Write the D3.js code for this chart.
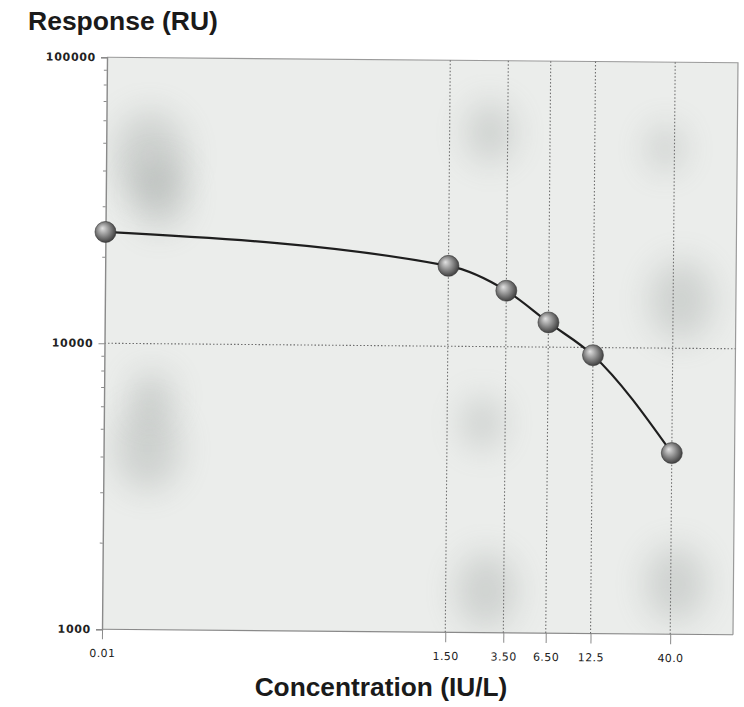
<!DOCTYPE html>
<html><head><meta charset="utf-8">
<script src="https://cdn.jsdelivr.net/npm/d3@7"></script>
<style>
html,body{margin:0;padding:0;background:#fff;}
svg{display:block;}
</style></head>
<body>
<svg id="chart" width="744" height="707"></svg>
<script>
// ---- data ----
const concentrations = [0.01, 1.5, 3.5, 6.5, 12.5, 40];
const responses = [24500, 19100, 15700, 12200, 9400, 4300];
const xTickLabels = ["0.01", "1.50", "3.50", "6.50", "12.5", "40.0"];
const yTickValues = [1000, 10000, 100000];
const yTickLabels = ["1000", "10000", "100000"];
// scan smudges in data coordinates [conc, response, relative size]
const smudgeX = [0.019, 0.022, 0.019, 0.02, 2.7, 2.5, 2.7, 35, 45, 43];
const smudgeY = [45000, 33000, 4300, 6500, 56000, 5400, 1400, 50000, 14700, 1500];
const smudgeR = [1.2, 0.9, 1.1, 0.7, 0.8, 0.7, 1.0, 0.6, 1.05, 1.0];

const svg = d3.select("#chart");
const L = 104.5, R = 735.5, T = 60, B = 632;

const x = d3.scaleLog().domain([0.01, 100]).range([L, R]);
const y = d3.scaleLog().domain([1000, 100000]).range([B, T]);

const defs = svg.append("defs");
const grad = defs.append("radialGradient").attr("id", "ball")
  .attr("cx", "45%").attr("cy", "45%").attr("r", "60%").attr("fx", "35%").attr("fy", "32%");
grad.append("stop").attr("offset", "0%").attr("stop-color", "#e2e2e2");
grad.append("stop").attr("offset", "45%").attr("stop-color", "#959595");
grad.append("stop").attr("offset", "100%").attr("stop-color", "#353535");
defs.append("filter").attr("id", "blur").attr("x", "-100%").attr("y", "-100%").attr("width", "300%").attr("height", "300%")
  .append("feGaussianBlur").attr("stdDeviation", 16);
defs.append("clipPath").attr("id", "clip").append("rect")
  .attr("x", L).attr("y", T).attr("width", R - L).attr("height", B - T);

// Title text
svg.append("text").attr("x", 28).attr("y", 30)
  .attr("font-family", "Liberation Sans, Arial, sans-serif").attr("font-weight", "bold")
  .attr("font-size", 26.5).attr("fill", "#1a1a1a").text("Response (RU)");

const g = svg.append("g").attr("transform", "rotate(0.5,420,346)");

// plot background
g.append("rect").attr("x", L).attr("y", T).attr("width", R - L).attr("height", B - T)
  .attr("fill", "#ebedeb");

// smudges
g.append("g").attr("clip-path", "url(#clip)").selectAll("ellipse")
  .data(smudgeX.map((d, i) => ({cx: d, cy: smudgeY[i], r: smudgeR[i]})))
  .join("ellipse")
  .attr("cx", d => x(d.cx)).attr("cy", d => y(d.cy))
  .attr("rx", d => 30 * d.r).attr("ry", d => 38 * d.r)
  .attr("fill", "#8e9492").attr("opacity", 0.3).attr("filter", "url(#blur)");

// frame top/right
g.append("path").attr("d", `M${L},${T}H${R}V${B}`).attr("fill", "none")
  .attr("stroke", "#9a9a9a").attr("stroke-width", 1.2);
// bottom line
g.append("line").attr("x1", L).attr("x2", R).attr("y1", B).attr("y2", B)
  .attr("stroke", "#8a8a8a").attr("stroke-width", 1.2);

// vertical dotted gridlines
g.append("g").selectAll("line").data(concentrations.slice(1)).join("line")
  .attr("x1", d => x(d)).attr("x2", d => x(d)).attr("y1", T).attr("y2", B)
  .attr("stroke", "#6e6e6e").attr("stroke-width", 1.1).attr("stroke-dasharray", "1.5,2");
// horizontal dotted gridline
g.append("g").selectAll("line").data([10000]).join("line")
  .attr("x1", L).attr("x2", R).attr("y1", d => y(d)).attr("y2", d => y(d))
  .attr("stroke", "#6e6e6e").attr("stroke-width", 1.1).attr("stroke-dasharray", "1.5,2");

// y axis
const yAxis = d3.axisLeft(y).tickValues(yTickValues).tickFormat((d, i) => yTickLabels[i])
  .tickSize(6).tickPadding(5);
const ya = g.append("g").attr("transform", `translate(${L},0)`).call(yAxis);
ya.select(".domain").attr("stroke", "#8a8a8a").attr("stroke-width", 1.4);
ya.selectAll(".tick line").attr("stroke", "#8a8a8a");
ya.selectAll("text").attr("font-family", "DejaVu Sans, sans-serif").attr("font-size", 11)
  .attr("fill", "#222").attr("font-weight", "bold").attr("letter-spacing", "0.7px")
  .attr("dy", "0.3em");
// minor y ticks
const minor = [];
[1000, 10000].forEach(b => { for (let k = 2; k <= 9; k++) minor.push(b * k); });
g.append("g").selectAll("line").data(minor).join("line")
  .attr("x1", L - 3).attr("x2", L).attr("y1", d => y(d)).attr("y2", d => y(d))
  .attr("stroke", "#8a8a8a");

// x axis
const xAxis = d3.axisBottom(x).tickValues(concentrations).tickFormat((d, i) => xTickLabels[i])
  .tickSize(10).tickPadding(10);
const xa = g.append("g").attr("transform", `translate(0,${B})`).call(xAxis);
xa.select(".domain").remove();
xa.selectAll(".tick line").attr("stroke", "#8a8a8a");
xa.selectAll("text").attr("font-family", "DejaVu Sans, sans-serif").attr("font-size", 11)
  .attr("fill", "#222").attr("letter-spacing", "0.4px");

// curve
const pts = concentrations.map((c, i) => [x(c), y(responses[i])]);
g.append("path").attr("d", d3.line().curve(d3.curveMonotoneX)(pts))
  .attr("fill", "none").attr("stroke", "#1e1e1e").attr("stroke-width", 2.2);

// balls
g.append("g").selectAll("circle").data(pts).join("circle")
  .attr("cx", d => d[0]).attr("cy", d => d[1]).attr("r", 10.5)
  .attr("fill", "url(#ball)").attr("stroke", "#333").attr("stroke-width", 0.6);

// x title
svg.append("text").attr("x", 381).attr("y", 696).attr("text-anchor", "middle")
  .attr("font-family", "Liberation Sans, Arial, sans-serif").attr("font-weight", "bold")
  .attr("font-size", 26.3).attr("fill", "#1a1a1a").text("Concentration (IU/L)");
</script>
</body></html>
